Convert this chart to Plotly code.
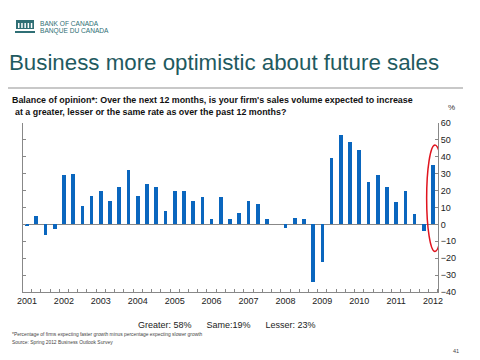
import plotly.graph_objects as go

years = ["2001", "2002", "2003", "2004", "2005", "2006", "2007", "2008", "2009", "2010", "2011", "2012"]
quarters = [f"{y}Q{q}" for y in years[:-1] for q in range(1, 5)] + ["2012Q1"]
balance = [-1, 5, -6, -3,
           29, 30, 11, 17,
           20, 14, 22, 32,
           17, 24, 22, 8,
           20, 20, 14, 16,
           3, 16, 3, 7,
           14, 12, 3, 0,
           -2, 4, 3, -34,
           -22, 39, 53, 49,
           44, 25, 29, 22,
           13, 20, 6, -4,
           35]
shares = ["Greater: 58%", "Same:19%", "Lesser: 23%"]

W, H = 480, 360
L, R, T, B = 23, 438, 123, 292

def px(x):
    return (x - L) / (R - L)

def py(y):
    return (B - y) / (B - T)

idx = list(range(len(balance)))
fig = go.Figure(go.Bar(x=idx, y=balance, marker=dict(color="#0a66be", line=dict(width=0)),
                       width=0.4, hovertext=quarters))

fig.update_layout(
    width=W, height=H,
    margin=dict(l=L, r=W - R, t=T, b=H - B),
    paper_bgcolor="white", plot_bgcolor="white",
    showlegend=False,
    font=dict(family="Liberation Sans, Arial, sans-serif", color="#222"),
    bargap=0,
)
fig.update_xaxes(
    range=[-0.43, len(balance) - 1 + 0.53],
    tickmode="array", tickvals=[i * 4 for i in range(len(years))], ticktext=years,
    ticks="", tickfont=dict(size=9, color="#222"),
    showline=True, linecolor="#888", linewidth=1, showgrid=False, zeroline=False,
    minor=dict(ticks="inside", tickmode="linear", tick0=-0.5, dtick=1, ticklen=3,
               tickcolor="#888", showgrid=False),
)
fig.update_yaxes(
    side="right", range=[-40, 60], tickmode="linear", tick0=-40, dtick=10,
    ticks="inside", ticklen=3, tickcolor="#888", tickfont=dict(size=9, color="#222"),
    showline=True, linecolor="#888", linewidth=1, mirror="ticks",
    showgrid=False, zeroline=True, zerolinecolor="#888", zerolinewidth=1,
)

shapes = []
# highlight ellipse around latest bar
last = len(balance) - 1
shapes.append(dict(type="circle", xref="x", yref="y", x0=last - 0.7, x1=last + 1.1,
                   y0=-16, y1=47, line=dict(color="#e0141e", width=1.5)))
# separator line under title
shapes.append(dict(type="line", xref="paper", yref="paper", x0=px(8), x1=px(463),
                   y0=py(88), y1=py(88), line=dict(color="#c8c8c8", width=2)))
# logo icon
teal = "#2f6f75"
shapes.append(dict(type="rect", xref="paper", yref="paper", x0=px(16), x1=px(34), y0=py(29), y1=py(20),
                   fillcolor=teal, line=dict(width=0)))
for k in range(5):
    shapes.append(dict(type="rect", xref="paper", yref="paper", x0=px(18 + k * 3.2), x1=px(19.5 + k * 3.2),
                       y0=py(28), y1=py(23), fillcolor="white", line=dict(width=0)))
shapes.append(dict(type="rect", xref="paper", yref="paper", x0=px(15), x1=px(35), y0=py(33), y1=py(31),
                   fillcolor=teal, line=dict(width=0)))
fig.update_layout(shapes=shapes)

ann = []
def text(x, y, s, size, color="#222", xanchor="left", bold=False):
    ann.append(dict(xref="paper", yref="paper", x=px(x), y=py(y), text=f"<b>{s}</b>" if bold else s,
                    showarrow=False, xanchor=xanchor, yanchor="middle",
                    font=dict(size=size, color=color)))

text(38, 24, "BANK OF CANADA", 6.6, teal)
text(38, 31, "BANQUE DU CANADA", 6.6, teal)
text(7, 63, "Business more optimistic about future sales", 22.3, "#1f5a60")
text(10, 100, "Balance of opinion*: Over the next 12 months, is your firm's sales volume expected to increase", 8.9, "#111", bold=True)
text(13, 112, "at a greater, lesser or the same rate as over the past 12 months?", 8.9, "#111", bold=True)
text(452, 107, "%", 8, "#333", xanchor="center")
text(227, 325, "      ".join(shares), 9, "#222", xanchor="center")
text(10, 334, "*Percentage of firms expecting faster growth minus percentage expecting slower growth", 4.9, "#444")
text(10, 342, "Source: Spring 2012 Business Outlook Survey", 4.9, "#444")
text(456, 351, "41", 5.5, "#444", xanchor="center")
fig.update_layout(annotations=ann)

fig.write_html("out.html", config={"displayModeBar": False},
               post_script="document.body.style.margin='0px';")
